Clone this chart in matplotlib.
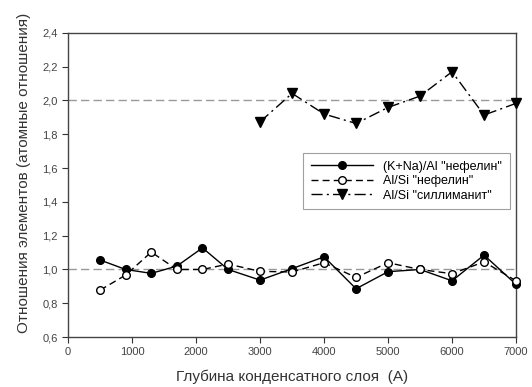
import matplotlib.pyplot as plt
from matplotlib.ticker import FuncFormatter

plt.rcParams['font.family'] = ['Liberation Sans', 'DejaVu Sans']

depth = [500, 900, 1300, 1700, 2100, 2500, 3000, 3500, 4000, 4500, 5000, 5500, 6000, 6500, 7000]
kna_al_nef = [1.056, 1.00, 0.977, 1.02, 1.128, 1.00, 0.937, 1.005, 1.075, 0.886, 0.987, 1.00, 0.933, 1.085, 0.912]
al_si_nef = [0.878, 0.967, 1.103, 1.00, 1.00, 1.032, 0.989, 0.985, 1.04, 0.953, 1.04, 1.00, 0.975, 1.045, 0.933]

depth_sil = [3000, 3500, 4000, 4500, 5000, 5500, 6000, 6500, 7000]
al_si_sil = [1.874, 2.042, 1.92, 1.864, 1.959, 2.026, 2.17, 1.914, 1.983]

fig = plt.figure(figsize=(5.32, 3.87), dpi=100)
ax = fig.add_axes([0.128, 0.129, 0.842, 0.786])

ax.axhline(1.0, color='#999999', ls=(0, (6, 3)), lw=1.0, zorder=1)
ax.axhline(2.0, color='#999999', ls=(0, (6, 3)), lw=1.0, zorder=1)

ax.plot(depth, kna_al_nef, color='black', ls='-', lw=1.0, marker='o', ms=5.5,
        mfc='black', mec='black', label='(K+Na)/Al "нефелин"', zorder=3, clip_on=False)
ax.plot(depth, al_si_nef, color='black', ls=(0, (5, 3)), lw=1.0, marker='o', ms=5.5,
        mfc='white', mec='black', label='Al/Si "нефелин"', zorder=4, clip_on=False)
ax.plot(depth_sil, al_si_sil, color='black', ls=(0, (8, 3, 1.5, 3)), lw=1.0, marker='v', ms=6.5,
        mfc='black', mec='black', label='Al/Si "силлиманит"', zorder=3, clip_on=False)

ax.set_xlim(0, 7000)
ax.set_ylim(0.6, 2.4)
ax.set_xticks(range(0, 7001, 1000))
ax.set_yticks([0.6, 0.8, 1.0, 1.2, 1.4, 1.6, 1.8, 2.0, 2.2, 2.4])
ax.yaxis.set_major_formatter(FuncFormatter(lambda v, p: f'{v:.1f}'.replace('.', ',')))
ax.tick_params(direction='out', length=4, width=0.8, labelsize=8, colors='#333333', labelcolor='#444444')
for s in ax.spines.values():
    s.set_color('#444444')
    s.set_linewidth(1.0)

ax.set_xlabel('Глубина конденсатного слоя  (A)', fontsize=11, color='#333333', labelpad=9)
ax.set_ylabel('Отношения элементов (атомные отношения)', fontsize=11, color='#333333')
ax.yaxis.set_label_coords(-0.082, 0.54)

leg = ax.legend(loc='upper left', bbox_to_anchor=(0.525, 0.605), fontsize=9,
                frameon=True, fancybox=False, edgecolor='#888888', handlelength=5,
                borderpad=0.6, labelspacing=0.2, borderaxespad=0)
leg.get_frame().set_linewidth(0.8)

fig.savefig('out.png', dpi=100)
